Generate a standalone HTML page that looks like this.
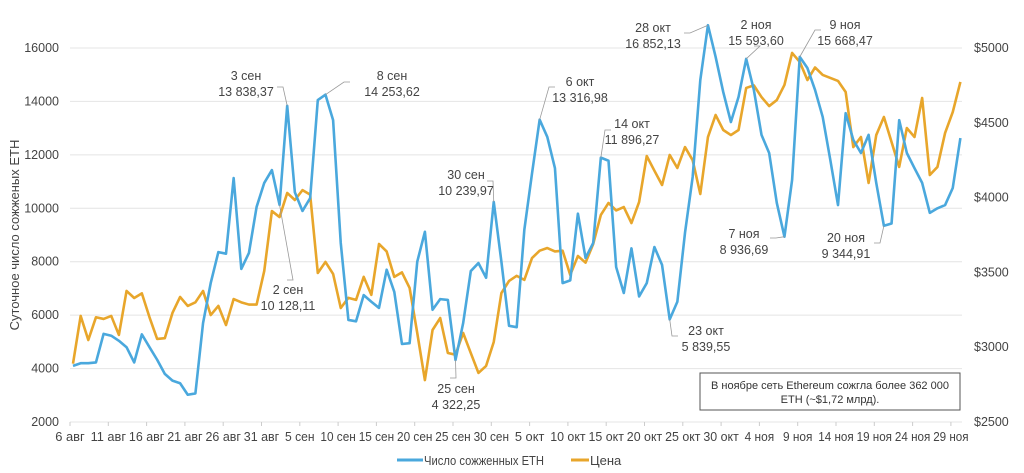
<!DOCTYPE html>
<html><head><meta charset="utf-8"><style>
body{margin:0;background:#fff;}
svg{display:block;font-family:"Liberation Sans","DejaVu Sans",sans-serif;}
</style></head><body>
<svg id="chart" width="1024" height="473" viewBox="0 0 1024 473">
<g id="grid"></g><g id="axes"></g><g id="series"></g><g id="ann"></g>
<g>
<rect x="700" y="373" width="260" height="37" fill="#fff" stroke="#555" stroke-width="1"/>
<text x="830" y="389" text-anchor="middle" font-size="11" fill="#333">В ноябре сеть Ethereum сожгла более 362 000</text>
<text x="830" y="403" text-anchor="middle" font-size="11" fill="#333">ETH (~$1,72 млрд).</text>
</g>
<text transform="translate(19,235) rotate(-90)" text-anchor="middle" font-size="13" fill="#444">Суточное число сожженых ETH</text>
<g>
<line x1="397" y1="460" x2="423" y2="460" stroke="#4aa8dd" stroke-width="3"/>
<text x="424" y="465" font-size="13" fill="#444" textLength="120" lengthAdjust="spacingAndGlyphs">Число сожженных ETH</text>
<line x1="571" y1="460" x2="589" y2="460" stroke="#e8a62b" stroke-width="3"/>
<text x="590" y="465" font-size="13" fill="#444">Цена</text>
</g>
</svg>
<script>
const burned=[4100,4200,4200,4230,5300,5230,5040,4800,4230,5280,4800,4330,3800,3550,3450,3020,3070,5700,7200,8360,8300,11130,7730,8330,10050,10950,11430,10128,13838,10600,9900,10380,14050,14254,13300,8700,5820,5770,6750,6500,6270,7700,6870,4920,4950,8000,9120,6200,6600,6570,4322,5700,7650,7950,7400,10240,8000,5600,5550,9200,11300,13317,12670,11500,7200,7300,9800,8140,8700,11896,11780,7800,6830,8500,6700,7200,8550,7880,5840,6500,9080,11170,14800,16852,15670,14350,13230,14170,15594,14430,12750,12070,10200,8937,11060,15668,15250,14430,13420,11800,10120,13560,12560,12070,12750,10950,9345,9430,13300,12070,11500,10950,9830,10000,10120,10760,12630];
const price=[2890,3209,3048,3200,3189,3209,3082,3376,3329,3360,3200,3055,3060,3229,3336,3276,3300,3376,3215,3276,3148,3322,3300,3285,3285,3510,3910,3870,4031,3984,4050,4020,3496,3570,3490,3262,3330,3316,3470,3350,3690,3640,3470,3500,3396,3095,2780,3115,3195,2961,2950,3095,2961,2828,2875,3035,3362,3443,3477,3450,3596,3645,3663,3640,3645,3483,3610,3565,3690,3884,3964,3914,3937,3830,3970,4278,4180,4084,4285,4198,4338,4250,4024,4405,4552,4452,4418,4452,4733,4750,4672,4612,4652,4753,4967,4907,4786,4870,4820,4800,4780,4706,4338,4405,4098,4418,4539,4372,4205,4465,4405,4666,4151,4205,4432,4572,4773];
const leftTicks=[2000,4000,6000,8000,10000,12000,14000,16000];
const rightTicks=["$2500","$3000","$3500","$4000","$4500","$5000"];
const rightVals=[2500,3000,3500,4000,4500,5000];
const xLabels=["6 авг","11 авг","16 авг","21 авг","26 авг","31 авг","5 сен","10 сен","15 сен","20 сен","25 сен","30 сен","5 окт","10 окт","15 окт","20 окт","25 окт","30 окт","4 ноя","9 ноя","14 ноя","19 ноя","24 ноя","29 ноя"];
const annIdx=[28,33,27,55,50,61,69,83,88,78,93,95,106];
const annDate=["3 сен","8 сен","2 сен","30 сен","25 сен","6 окт","14 окт","28 окт","2 ноя","23 окт","7 ноя","9 ноя","20 ноя"];
const annVal=["13 838,37","14 253,62","10 128,11","10 239,97","4 322,25","13 316,98","11 896,27","16 852,13","15 593,60","5 839,55","8 936,69","15 668,47","9 344,91"];

const NS="http://www.w3.org/2000/svg";
const X0=70,X1=962,Y0=422,Y1=48;
const xS=d=>73+d*7.65;
const yL=v=>Y0-(v-2000)/14000*(Y0-Y1);
const yR=v=>Y0-(v-2500)/2500*(Y0-Y1);
function mk(tag,at,par){const e=document.createElementNS(NS,tag);for(const k in at)e.setAttribute(k,at[k]);par.appendChild(e);return e;}
const grid=document.getElementById('grid'),axes=document.getElementById('axes'),ser=document.getElementById('series'),ann=document.getElementById('ann');
leftTicks.forEach(v=>{
 const l=mk('line',{x1:X0,x2:X1,y1:yL(v),y2:yL(v),stroke:'#e4e4e4','stroke-width':1},grid);
 
 
 const t=mk('text',{x:59,y:yL(v)+4,'text-anchor':'end','font-size':12.5,fill:'#444'},axes);t.textContent=v;
 
 
});
rightVals.forEach((v,i)=>{
 const t=mk('text',{x:974,y:yR(v)+4,'font-size':12.5,fill:'#444'},axes);t.textContent=rightTicks[i];
 
 
});
xLabels.forEach((s,i)=>{
 const x=70+i*5*7.66;
 mk('line',{x1:x,x2:x,y1:Y0,y2:Y0+4,stroke:'#ccc'},axes);
 const t=mk('text',{x:x,y:441,'text-anchor':'middle','font-size':12.5,fill:'#444',textLength:s.length*5.9,lengthAdjust:'spacingAndGlyphs'},axes);t.textContent=s;
 
 
});
function line(arr,ys,col,name){
 const p=mk('polyline',{points:arr.map((v,i)=>xS(i)+','+ys(v)).join(' '),fill:'none',stroke:col,'stroke-width':2.6,'stroke-linejoin':'round'},ser);
 
 
}
line(price,yR,'#e8a62b','price-line');
line(burned,yL,'#4aa8dd','burned-line');
const lab=[[246,76,283,87],[392,76,344,82],[288,290,293,280],[466,175,493,181],[456,389,456,378],[580,82,549,87],[632,124,605,130],[653,28,690,33],[756,25,760,46],[706,331,672,336],[744,234,776,238],[845,25,815,30],[846,238,880,243]];
annIdx.forEach((d,i)=>{
 const [cx,cy,lx,ly]=lab[i];
 const px=xS(d),py=yL(burned[d]);
 mk('polyline',{points:`${px},${py} ${lx},${ly} ${lx+(lx<cx?6:-6)},${ly}`,fill:'none',stroke:'#999','stroke-width':0.8},ann);
 const g=mk('g',{},ann);
 
 
 const t1=mk('text',{x:cx,y:cy+4,'text-anchor':'middle','font-size':12.5,fill:'#444'},g);t1.textContent=annDate[i];
 const t2=mk('text',{x:cx,y:cy+20,'text-anchor':'middle','font-size':12.5,fill:'#444'},g);t2.textContent=annVal[i];
});
</script>
</body></html>
